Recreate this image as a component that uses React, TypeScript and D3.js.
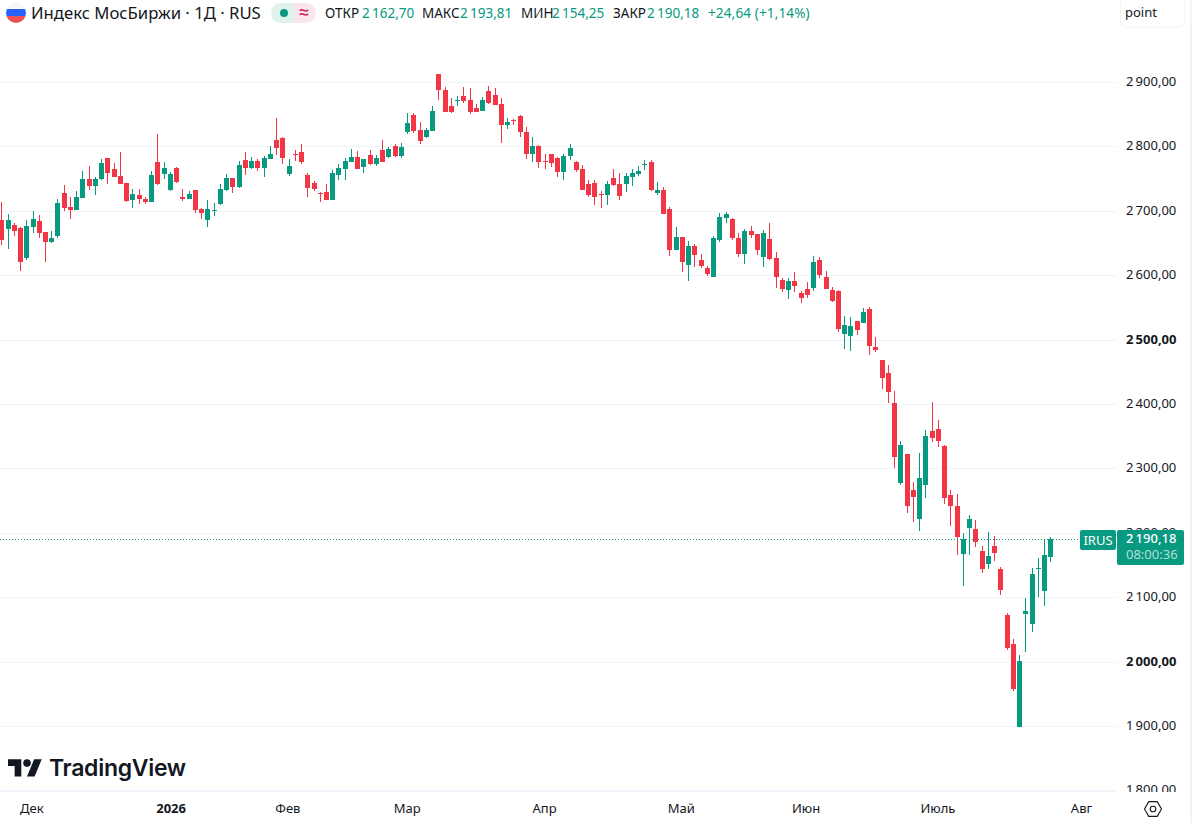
import { useRef, useEffect } from 'react'
import * as d3 from 'd3'

const opens = [
  2686, 2672, 2678, 2673, 2627, 2675, 2684, 2667, 2651, 2661,
  2728, 2706, 2702, 2720, 2749, 2739, 2750, 2782, 2765, 2754,
  2743, 2716, 2725, 2719, 2714, 2776, 2757, 2732, 2766, 2721,
  2718, 2732, 2703, 2686, 2700, 2711, 2732, 2751, 2737, 2779,
  2766, 2777, 2766, 2781, 2810, 2813, 2757, 2788, 2791, 2756,
  2743, 2728, 2729, 2717, 2756, 2765, 2776, 2784, 2768, 2787,
  2773, 2794, 2784, 2801, 2785, 2822, 2849, 2826, 2814, 2824,
  2912, 2888, 2863, 2870, 2878, 2872, 2860, 2855, 2886, 2880,
  2866, 2833, 2841, 2847, 2822, 2788, 2801, 2777, 2788, 2782,
  2760, 2785, 2776, 2765, 2742, 2743, 2726, 2725, 2751, 2742,
  2742, 2753, 2757, 2772, 2776, 2728, 2732, 2703, 2639, 2659,
  2616, 2645, 2624, 2611, 2597, 2655, 2689, 2687, 2658, 2633,
  2669, 2664, 2628, 2656, 2627, 2593, 2577, 2591, 2572, 2579,
  2580, 2624, 2597, 2577, 2576, 2509, 2506, 2529, 2526, 2548,
  2489, 2468, 2448, 2402, 2277, 2322, 2266, 2221, 2274, 2358,
  2361, 2335, 2259, 2242, 2167, 2207, 2206, 2172, 2152, 2180,
  2144, 2072, 2027, 1899, 2074, 2058, 2144, 2110, 2162.7,
]
const highs = [
  2713, 2695, 2681, 2675, 2685, 2699, 2693, 2667, 2668, 2718,
  2740, 2722, 2731, 2762, 2770, 2753, 2780, 2782, 2774, 2791,
  2743, 2734, 2734, 2722, 2762, 2819, 2776, 2760, 2768, 2734,
  2731, 2733, 2705, 2717, 2712, 2742, 2757, 2751, 2778, 2791,
  2784, 2780, 2785, 2800, 2844, 2814, 2781, 2794, 2804, 2759,
  2746, 2729, 2742, 2763, 2773, 2782, 2796, 2793, 2781, 2794,
  2787, 2810, 2799, 2804, 2805, 2852, 2852, 2838, 2829, 2863,
  2912, 2892, 2875, 2878, 2892, 2891, 2866, 2877, 2894, 2891,
  2875, 2844, 2843, 2849, 2830, 2815, 2802, 2788, 2788, 2784,
  2788, 2804, 2777, 2771, 2748, 2748, 2731, 2746, 2765, 2759,
  2759, 2765, 2770, 2779, 2779, 2745, 2737, 2706, 2675, 2659,
  2653, 2649, 2633, 2614, 2661, 2697, 2698, 2689, 2666, 2672,
  2676, 2664, 2670, 2681, 2636, 2596, 2596, 2605, 2576, 2590,
  2630, 2628, 2607, 2582, 2577, 2537, 2535, 2529, 2549, 2551,
  2504, 2468, 2461, 2420, 2343, 2322, 2279, 2324, 2360, 2403,
  2375, 2336, 2266, 2260, 2200, 2228, 2220, 2180, 2201, 2195,
  2147, 2076, 2035, 2010, 2099, 2145, 2161, 2190, 2193.81,
]
const lows = [
  2647, 2641, 2661, 2606, 2624, 2665, 2658, 2621, 2650, 2658,
  2700, 2688, 2701, 2720, 2733, 2725, 2748, 2741, 2752, 2741,
  2714, 2705, 2711, 2710, 2714, 2740, 2749, 2730, 2743, 2715,
  2718, 2697, 2688, 2675, 2692, 2709, 2731, 2728, 2736, 2756,
  2765, 2762, 2753, 2781, 2787, 2773, 2754, 2777, 2773, 2722,
  2731, 2714, 2717, 2717, 2748, 2748, 2776, 2765, 2759, 2771,
  2770, 2776, 2782, 2784, 2782, 2819, 2821, 2804, 2813, 2824,
  2872, 2853, 2852, 2863, 2867, 2850, 2853, 2855, 2866, 2864,
  2805, 2827, 2833, 2815, 2781, 2776, 2767, 2765, 2768, 2753,
  2748, 2779, 2760, 2732, 2722, 2709, 2704, 2709, 2739, 2717,
  2729, 2739, 2754, 2763, 2731, 2725, 2695, 2630, 2639, 2605,
  2591, 2613, 2611, 2599, 2597, 2652, 2681, 2655, 2628, 2617,
  2658, 2631, 2613, 2624, 2580, 2574, 2563, 2574, 2557, 2565,
  2576, 2596, 2579, 2558, 2512, 2485, 2482, 2507, 2526, 2476,
  2481, 2423, 2402, 2301, 2274, 2231, 2217, 2203, 2254, 2341,
  2333, 2245, 2211, 2166, 2118, 2166, 2178, 2138, 2144, 2156,
  2103, 2018, 1954, 1899, 2015, 2046, 2100, 2086, 2154.25,
]
const closes = [
  2654, 2686, 2668, 2621, 2676, 2687, 2666, 2651, 2658, 2712,
  2705, 2701, 2721, 2749, 2739, 2749, 2774, 2759, 2753, 2742,
  2715, 2726, 2719, 2714, 2756, 2742, 2766, 2757, 2745, 2718,
  2726, 2702, 2697, 2703, 2701, 2734, 2751, 2737, 2771, 2766,
  2777, 2766, 2782, 2788, 2798, 2782, 2770, 2787, 2776, 2735,
  2734, 2727, 2717, 2759, 2767, 2777, 2784, 2765, 2781, 2773,
  2782, 2776, 2796, 2785, 2799, 2836, 2824, 2808, 2826, 2855,
  2888, 2854, 2854, 2872, 2871, 2854, 2854, 2872, 2867, 2864,
  2833, 2838, 2840, 2822, 2788, 2801, 2776, 2776, 2774, 2760,
  2785, 2798, 2763, 2732, 2725, 2722, 2725, 2742, 2740, 2723,
  2754, 2759, 2762, 2773, 2732, 2732, 2695, 2639, 2659, 2621,
  2645, 2631, 2614, 2602, 2658, 2690, 2695, 2658, 2633, 2669,
  2663, 2639, 2666, 2625, 2597, 2579, 2591, 2583, 2565, 2569,
  2621, 2600, 2579, 2560, 2517, 2523, 2521, 2515, 2543, 2490,
  2484, 2440, 2419, 2318, 2336, 2242, 2256, 2285, 2350, 2347,
  2343, 2254, 2242, 2193, 2190, 2221, 2186, 2144, 2164, 2169,
  2111, 2021, 1958, 2001, 2079, 2136, 2145, 2166, 2190.18,
]

const priceTicks = [2900, 2800, 2700, 2600, 2500, 2400, 2300, 2200, 2100, 2000, 1900, 1800]
const boldPrices = [2500, 2000]
const monthLabels = ['Дек', '2026', 'Фев', 'Мар', 'Апр', 'Май', 'Июн', 'Июль', 'Авг']
const monthBars = [4.9, 27.2, 45.9, 65, 87, 108.9, 128.9, 150, 173]

const legendPairs = [
  { key: 'ОТКР', keyX: 325, value: '2\u2009162,70', valueX: 362 },
  { key: 'МАКС', keyX: 422, value: '2\u2009193,81', valueX: 460 },
  { key: 'МИН', keyX: 521, value: '2\u2009154,25', valueX: 552 },
  { key: 'ЗАКР', keyX: 613, value: '2\u2009190,18', valueX: 647 },
]

const GREEN = '#089981'
const RED = '#F23645'
const GRID = '#F0F3FA'
const TEXT = '#131722'
const FONT = '"Noto Sans", sans-serif'

const formatPrice = (v: number) => {
  const s = v.toFixed(2).replace('.', ',')
  return s[0] + '\u2009' + s.slice(1)
}

export default function App() {
  const svgRef = useRef<SVGSVGElement>(null)

  useEffect(() => {
    if (!svgRef.current) return
    const w = 1192
    const h = 823
    const svg = d3.select(svgRef.current)
    svg.selectAll('*').remove()

    const x = d3.scaleLinear().domain([0, opens.length - 1]).range([1.3, 1050.3])
    const y = d3.scaleLinear().domain([1800, 2900]).range([790.4, 82])
    const paneRight = 1116

    svg.append('rect').attr('width', w).attr('height', h).attr('fill', '#fff')

    // Grid
    svg
      .append('g')
      .selectAll('line')
      .data(priceTicks)
      .join('line')
      .attr('x1', 0)
      .attr('x2', paneRight)
      .attr('y1', (d) => Math.round(y(d)) + 0.5)
      .attr('y2', (d) => Math.round(y(d)) + 0.5)
      .attr('stroke', GRID)

    // Price axis labels
    svg
      .append('g')
      .selectAll('text')
      .data(priceTicks)
      .join('text')
      .attr('x', 1126)
      .attr('y', (d) => y(d) + 4)
      .attr('font-family', FONT)
      .attr('font-size', 13)
      .attr('font-weight', (d) => (boldPrices.includes(d) ? 700 : 400))
      .attr('fill', TEXT)
      .text((d) => formatPrice(d))

    // Candles
    const idx = d3.range(opens.length)
    const candles = svg.append('g').attr('shape-rendering', 'crispEdges')
    const color = (i: number) => (closes[i] >= opens[i] ? GREEN : RED)
    candles
      .selectAll('.wick')
      .data(idx)
      .join('rect')
      .attr('class', 'wick')
      .attr('x', (i) => Math.round(x(i)))
      .attr('width', 1)
      .attr('y', (i) => y(highs[i]))
      .attr('height', (i) => y(lows[i]) - y(highs[i]))
      .attr('fill', color)
    candles
      .selectAll('.body')
      .data(idx)
      .join('rect')
      .attr('class', 'body')
      .attr('x', (i) => Math.round(x(i)) - 2)
      .attr('width', 5)
      .attr('y', (i) => y(Math.max(opens[i], closes[i])))
      .attr('height', (i) => Math.max(1, Math.abs(y(opens[i]) - y(closes[i]))))
      .attr('fill', color)

    // Last price line
    const lastClose = closes[closes.length - 1]
    const lastY = Math.round(y(lastClose)) + 0.5
    svg
      .append('line')
      .attr('x1', 0)
      .attr('x2', 1080)
      .attr('y1', lastY)
      .attr('y2', lastY)
      .attr('stroke', GREEN)
      .attr('stroke-dasharray', '1 2')

    // Last price labels
    svg.append('rect').attr('x', 1080).attr('y', 530).attr('width', 36).attr('height', 20).attr('rx', 2).attr('fill', GREEN)
    svg
      .append('text')
      .attr('x', 1098)
      .attr('y', 545)
      .attr('text-anchor', 'middle')
      .attr('font-family', FONT)
      .attr('font-size', 13)
      .attr('fill', '#fff')
      .text('IRUS')
    svg.append('rect').attr('x', 1117).attr('y', 530).attr('width', 67).attr('height', 35).attr('rx', 2).attr('fill', GREEN)
    svg
      .append('text')
      .attr('x', 1126)
      .attr('y', 543)
      .attr('font-family', FONT)
      .attr('font-size', 13)
      .attr('font-weight', 500)
      .attr('fill', '#fff')
      .text(formatPrice(lastClose))
    svg
      .append('text')
      .attr('x', 1126)
      .attr('y', 559)
      .attr('font-family', FONT)
      .attr('font-size', 13)
      .attr('fill', '#fff')
      .attr('fill-opacity', 0.7)
      .text('08:00:36')

    // Time axis
    svg.append('rect').attr('x', 0).attr('y', 792).attr('width', w).attr('height', h - 792).attr('fill', '#fff')
    svg.append('line').attr('x1', 0).attr('x2', paneRight).attr('y1', 791.5).attr('y2', 791.5).attr('stroke', GRID)
    svg
      .append('g')
      .selectAll('text')
      .data(monthLabels)
      .join('text')
      .attr('x', (_, i) => x(monthBars[i]))
      .attr('y', 813)
      .attr('text-anchor', 'middle')
      .attr('font-family', FONT)
      .attr('font-size', 13)
      .attr('font-weight', (d) => (d === '2026' ? 700 : 400))
      .attr('fill', TEXT)
      .text((d) => d)

    // Settings icon
    const hex = d3.line()(
      d3.range(6).map((i) => {
        const a = (Math.PI / 3) * i
        return [1153 + 8.5 * Math.cos(a), 809 + 8.5 * Math.sin(a)] as [number, number]
      })
    )
    svg.append('path').attr('d', hex + 'Z').attr('fill', 'none').attr('stroke', TEXT).attr('stroke-width', 1.1)
    svg.append('circle').attr('cx', 1153).attr('cy', 809).attr('r', 2.8).attr('fill', 'none').attr('stroke', TEXT).attr('stroke-width', 1.1)

    // Right edge strip
    svg.append('rect').attr('x', 1190).attr('y', 0).attr('width', 2).attr('height', h).attr('fill', '#F0F3FA')

    // TradingView logo
    const logo = svg.append('g').attr('transform', 'translate(8, 755.5) scale(0.95)').attr('fill', TEXT)
    logo.append('path').attr('d', 'M14 22H7V11H0V4h14v18zM28 22h-8l7.5-18h8L28 22z')
    logo.append('circle').attr('cx', 20).attr('cy', 8).attr('r', 4)
    svg
      .append('text')
      .attr('x', 49)
      .attr('y', 776)
      .attr('font-family', 'Inter, sans-serif')
      .attr('font-size', 23)
      .attr('font-weight', 600)
      .attr('letter-spacing', -0.3)
      .attr('fill', TEXT)
      .text('TradingView')

    // Legend: flag
    const defs = svg.append('defs')
    defs.append('clipPath').attr('id', 'flag').append('circle').attr('cx', 16).attr('cy', 13).attr('r', 10)
    const flag = svg.append('g').attr('clip-path', 'url(#flag)')
    flag.append('rect').attr('x', 6).attr('y', 3).attr('width', 20).attr('height', 7).attr('fill', '#F4F6FA')
    flag.append('rect').attr('x', 6).attr('y', 9).attr('width', 20).attr('height', 7).attr('fill', '#2962FF')
    flag.append('rect').attr('x', 6).attr('y', 16).attr('width', 20).attr('height', 7).attr('fill', '#F0504F')

    svg
      .append('text')
      .attr('x', 31)
      .attr('y', 18.5)
      .attr('font-family', FONT)
      .attr('font-size', 16.7)
      .attr('fill', TEXT)
      .text('Индекс МосБиржи · 1Д · RUS')

    // Legend: status pill
    defs.append('clipPath').attr('id', 'pill').append('rect').attr('x', 271).attr('y', 3).attr('width', 45).attr('height', 20).attr('rx', 10)
    const pill = svg.append('g').attr('clip-path', 'url(#pill)')
    pill.append('rect').attr('x', 271).attr('y', 3).attr('width', 23).attr('height', 20).attr('fill', '#DFF2EE')
    pill.append('rect').attr('x', 294).attr('y', 3).attr('width', 22).attr('height', 20).attr('fill', '#FCE6EE')
    svg.append('circle').attr('cx', 284).attr('cy', 13).attr('r', 4).attr('fill', GREEN)
    svg
      .append('text')
      .attr('x', 304)
      .attr('y', 18)
      .attr('text-anchor', 'middle')
      .attr('font-family', FONT)
      .attr('font-size', 17)
      .attr('font-weight', 700)
      .attr('fill', '#CC2F6A')
      .text('≈')

    // Legend: OHLC
    const legend = svg.append('g').attr('font-family', FONT).attr('font-size', 13.5)
    legendPairs.forEach((p) => {
      legend.append('text').attr('x', p.keyX).attr('y', 18).attr('fill', TEXT).text(p.key)
      legend.append('text').attr('x', p.valueX).attr('y', 18).attr('fill', GREEN).text(p.value)
    })
    legend.append('text').attr('x', 708).attr('y', 18).attr('fill', GREEN).attr('letter-spacing', 0.15).text('+24,64 (+1,14%)')

    // Units box
    svg
      .append('rect')
      .attr('x', 1120.5)
      .attr('y', -6)
      .attr('width', 64)
      .attr('height', 33)
      .attr('rx', 6)
      .attr('fill', '#fff')
      .attr('stroke', GRID)
    svg
      .append('text')
      .attr('x', 1125)
      .attr('y', 17)
      .attr('font-family', FONT)
      .attr('font-size', 13)
      .attr('fill', TEXT)
      .text('point')

    return () => {
      svg.selectAll('*').remove()
    }
  }, [])

  return <svg ref={svgRef} width={1192} height={823} style={{ position: 'fixed', left: 0, top: 0, display: 'block' }} />
}
